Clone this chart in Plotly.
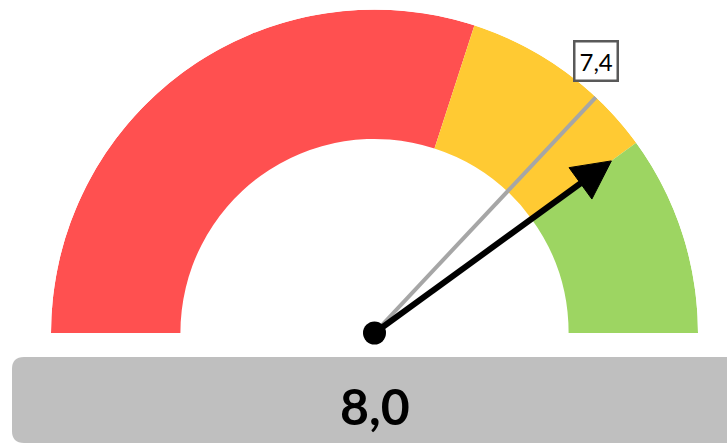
import math
import plotly.graph_objects as go

# ---- data ----
band_names = ["Low", "Medium", "High"]
band_edges = [0, 6, 8, 10]
band_colors = ["#FF5050", "#FFCA33", "#9DD562"]
value = 8.0
target = 7.4
scale_max = 10

W, H = 727, 445
INNER = 0.6  # inner radius fraction

def deg(v):
    return v * 180.0 / scale_max

fig = go.Figure()

# bands
thetas = [deg((a + b) / 2) for a, b in zip(band_edges[:-1], band_edges[1:])]
widths = [deg(b - a) for a, b in zip(band_edges[:-1], band_edges[1:])]
fig.add_trace(go.Barpolar(
    theta=thetas, width=widths, r=[1 - INNER] * len(thetas), base=[INNER] * len(thetas),
    marker=dict(color=band_colors, line=dict(width=0)), hoverinfo="skip", showlegend=False,
    name="bands",
))

# target line
fig.add_trace(go.Scatterpolar(
    r=[0, 1.0], theta=[deg(target), deg(target)], mode="lines",
    line=dict(color="#A6A6A6", width=4), hoverinfo="skip", showlegend=False,
))

# needle (shaft + triangular head)
tip_r = 0.905
head_len = 0.118
head_hw = 0.06
base_r = tip_r - head_len
fig.add_trace(go.Scatterpolar(
    r=[0, base_r + 0.01], theta=[deg(value), deg(value)], mode="lines",
    line=dict(color="black", width=6), hoverinfo="skip", showlegend=False,
))
corner_r = math.hypot(base_r, head_hw)
corner_dt = math.degrees(math.atan2(head_hw, base_r))
fig.add_trace(go.Scatterpolar(
    r=[tip_r, corner_r, corner_r, tip_r],
    theta=[deg(value), deg(value) - corner_dt, deg(value) + corner_dt, deg(value)],
    mode="lines", fill="toself", fillcolor="black", line=dict(color="black", width=1),
    hoverinfo="skip", showlegend=False,
))

# hub
fig.add_trace(go.Scatterpolar(
    r=[0], theta=[0], mode="markers",
    marker=dict(symbol="circle", size=23, color="black", opacity=1),
    hoverinfo="skip", showlegend=False,
))

# polar geometry (pixels in figure)
cx, cy, R = 374.5, 333.0, 323.5
dom_x = [(cx - R) / W, (cx + R) / W]
dom_y = [1 - cy / H, 1 - (cy - R) / H]

fig.update_layout(
    width=W, height=H, margin=dict(l=0, r=0, t=0, b=0),
    paper_bgcolor="white", plot_bgcolor="white",
    polar=dict(
        domain=dict(x=dom_x, y=dom_y),
        sector=[0, 180], bgcolor="rgba(0,0,0,0)", bargap=0,
        radialaxis=dict(range=[0, 1], visible=False),
        angularaxis=dict(rotation=180, direction="clockwise", visible=False),
    ),
)

# target label at the end of the target line
a = math.radians(180 - deg(target))
tx = (cx + R * math.cos(a)) / W
ty = 1 - (cy - R * math.sin(a)) / H
fig.add_annotation(
    x=tx, y=ty, xref="paper", yref="paper", xanchor="center", yanchor="bottom", yshift=15,
    text=f"{target:.1f}".replace(".", ","), showarrow=False,
    font=dict(family="Lato", size=24, color="black"),
    bgcolor="white", bordercolor="#595959", borderwidth=2.5, borderpad=4,
)

# bottom value box
x0, x1 = 12 / W, 1.05
y0, y1 = 1 - 443 / H, 1 - 357 / H
rx, ry = 12 / W, 12 / H
path = (f"M {x0+rx},{y1} L {x1},{y1} L {x1},{y0} L {x0+rx},{y0} "
        f"Q {x0},{y0} {x0},{y0+ry} L {x0},{y1-ry} Q {x0},{y1} {x0+rx},{y1} Z")
fig.add_shape(type="path", path=path, xref="paper", yref="paper",
              fillcolor="#BFBFBF", line=dict(width=0), layer="below")
fig.add_annotation(
    x=cx / W, y=1 - 406 / H, xref="paper", yref="paper", xanchor="center", yanchor="middle",
    text=f"<b>{value:.1f}</b>".replace(".", ","), showarrow=False,
    font=dict(family="Lato", size=50, color="black"),
)

fig.write_html(
    "out.html",
    config={"displayModeBar": False},
    post_script="document.body.style.margin='0';document.body.style.overflow='hidden';",
)
